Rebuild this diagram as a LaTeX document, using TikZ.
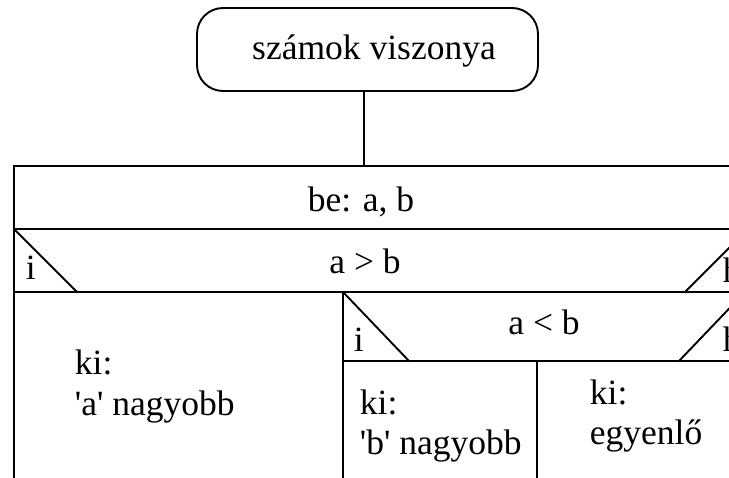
\documentclass[tikz,border=0pt]{standalone}
\usepackage{fontspec}
\newfontfamily\lserif{Liberation Serif}
\begin{document}
\begin{tikzpicture}[x=1pt,y=-1pt,line width=1.9pt,
  txt/.style={font=\lserif\fontsize{35.5}{40}\selectfont, inner sep=0pt},
  ln/.style={line width=1.9pt, line cap=rect}]
\useasboundingbox (0,0) rectangle (729,478);
\clip (0,0) rectangle (729,478);
% title
\node[draw, rounded corners=26pt, minimum width=341pt, minimum height=83pt, inner sep=0pt] (t) at (367.5,49.5) {};
\node[txt, anchor=base] (tl) at (374,60) {számok viszonya};
\coordinate (lt) at (364,166);
\draw[ln] (lt |- t.south) -- (lt);
% structogram frame
\draw[ln] (14,490) -- (14,166) -- (780,166);
\draw[ln] (14,229) -- (780,229);
\draw[ln] (14,292) -- (780,292);
\draw[ln] (14,229) -- (77,292);
\draw[ln] (685,292) -- (748,229);
\draw[ln] (343,292) -- (343,490);
\draw[ln] (343,361) -- (780,361);
\draw[ln] (343,292) -- (409,361);
\draw[ln] (679,361) -- (745,292);
\draw[ln] (537,361) -- (537,490);
% texts
\node[txt, anchor=base] (be) at (361,212) {be: a, b};
\node[txt, anchor=base] (c1) at (365,274) {a > b};
\node[txt, anchor=base west] (i1) at (25,280) {i};
\node[txt, anchor=base west] (h1) at (722,283) {h};
\node[txt, anchor=base] (c2) at (544,335) {a < b};
\node[txt, anchor=base west] (i2) at (353,352) {i};
\node[txt, anchor=base west] (h2) at (722,352) {h};
\node[txt, anchor=base west] (a1) at (74,375) {ki:};
\node[txt, anchor=base west] (a2) at (74,416) {'a' nagyobb};
\node[txt, anchor=base west] (b1) at (359,415) {ki:};
\node[txt, anchor=base west] (b2) at (359,455) {'b' nagyobb};
\node[txt, anchor=base west] (e1) at (589,405) {ki:};
\node[txt, anchor=base west] (e2) at (589,445) {egyenlő};
\end{tikzpicture}
\end{document}
